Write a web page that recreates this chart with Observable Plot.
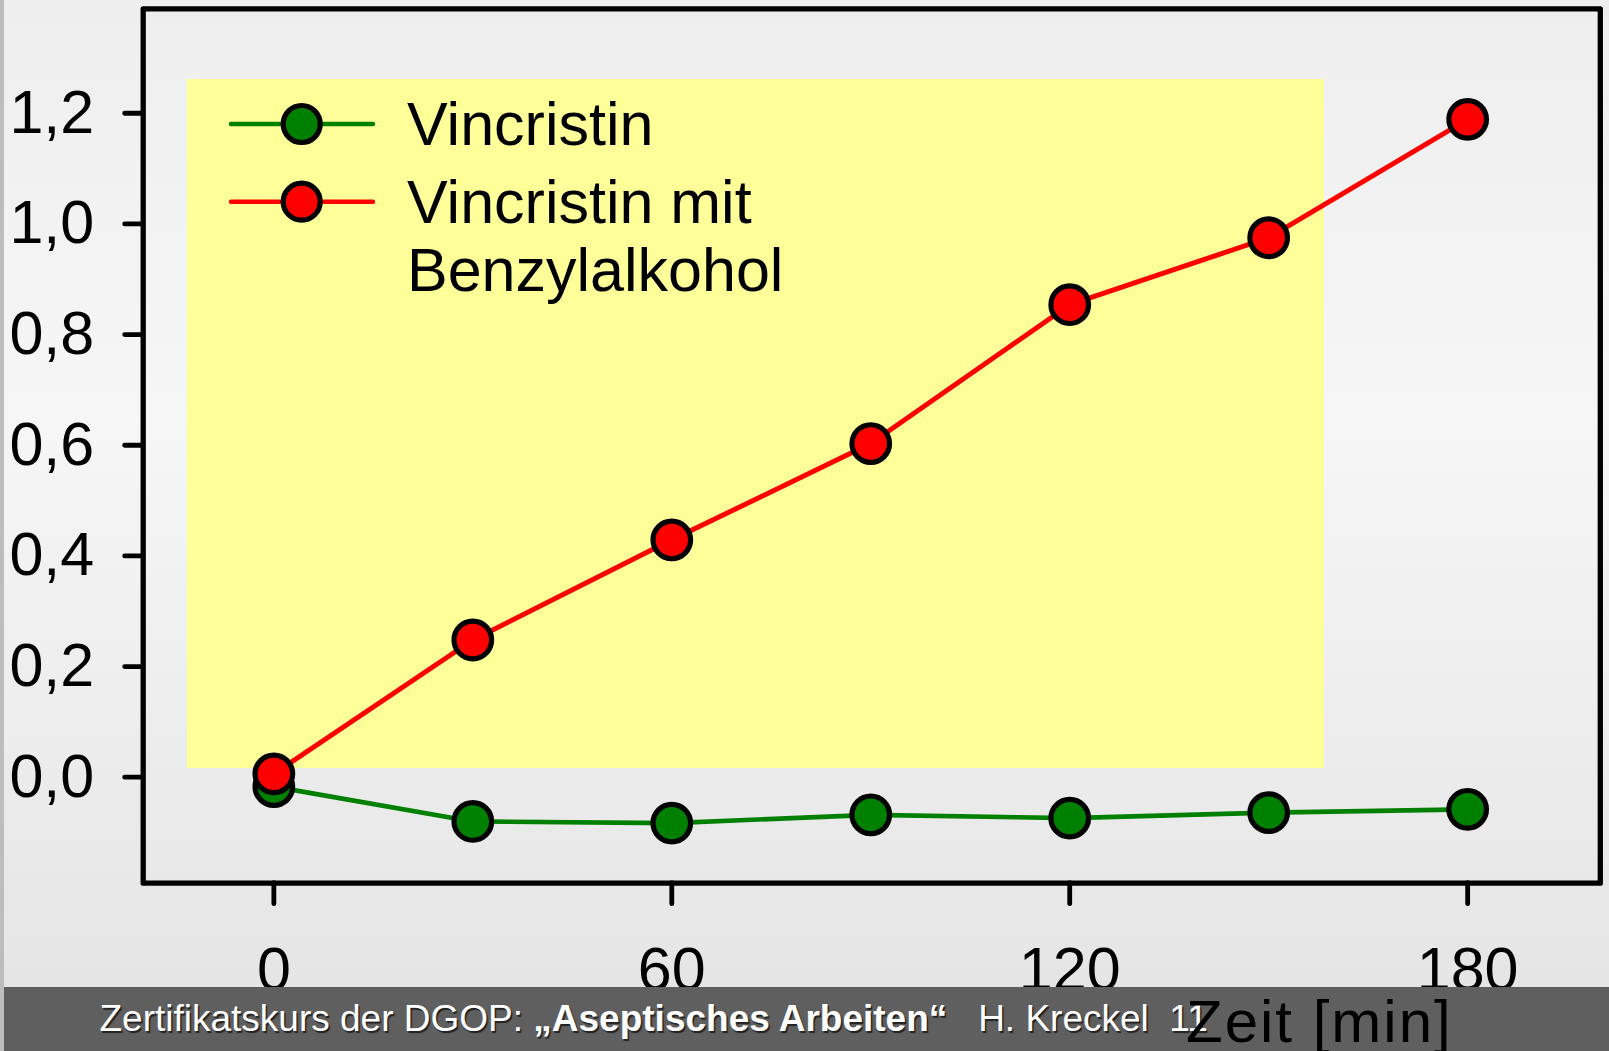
<!DOCTYPE html>
<html>
<head>
<meta charset="utf-8">
<script src="https://cdn.jsdelivr.net/npm/d3@7"></script>
<script src="https://cdn.jsdelivr.net/npm/@observablehq/plot@0.6"></script>
<style>
  html, body { margin: 0; padding: 0; background: #e6e6e6; }
  #stage { position: relative; width: 1609px; height: 1051px; overflow: hidden;
    font-family: "Liberation Sans", Arial, sans-serif;
    background: linear-gradient(to bottom, #eeeeee 0px, #f6f6f6 420px, #e5e5e5 987px); }
  #strip { position: absolute; left: 0; top: 0; width: 4px; height: 1051px; background: #bdbdbd; z-index: 3; }
  #legendBox { position: absolute; left: 187px; top: 79px; width: 1137px; height: 689px; background: #ffff99; z-index: 0; }
  #chart { position: absolute; left: 0; top: 0; z-index: 1; }
  #legend { position: absolute; left: 0; top: 0; width: 1609px; height: 1051px; z-index: 2; pointer-events: none; }
  .ltext { position: absolute; font-size: 61px; line-height: 61px; color: #000; white-space: nowrap; }
  #footer { position: absolute; left: 4px; top: 987px; width: 1605px; height: 64px; background: #5f5f5f; z-index: 3; }
  #footerText { position: absolute; left: 99.5px; top: 1000px; font-size: 37px; line-height: 37px; color: #fff;
    white-space: pre; z-index: 4; text-shadow: 1.5px 1.5px 1px rgba(0,0,0,0.65); }
  #xlabel { position: absolute; left: 1186px; top: 992px; font-size: 60px; line-height: 60px; color: #000;
    letter-spacing: 2px; white-space: nowrap; z-index: 5; }
</style>
</head>
<body>
<div id="stage">
  <div id="strip"></div>
  <div id="legendBox"></div>
  <div id="chart"></div>
  <div id="legend"></div>
  <div id="footer"></div>
  <div id="footerText">Zertifikatskurs der DGOP: <b>„Aseptisches Arbeiten“</b>   H. Kreckel  11</div>
  <div id="xlabel"></div>
</div>
<script>
// ---- data ----
const times = [0, 30, 60, 90, 120, 150, 180];
const vincristin = [-0.017, -0.080, -0.083, -0.068, -0.074, -0.064, -0.058];
const vincristinBenzyl = [0.006, 0.248, 0.429, 0.603, 0.854, 0.975, 1.189];
const seriesNames = ["Vincristin", "Vincristin mit Benzylalkohol"];
const seriesColors = ["#008000", "#ff0000"];
const xTicks = [0, 60, 120, 180];
const yTicks = [0, 0.2, 0.4, 0.6, 0.8, 1.0, 1.2];
const xLabel = "Zeit [min]";

const green = times.map((t, i) => ({t, v: vincristin[i], s: seriesNames[0]}));
const red = times.map((t, i) => ({t, v: vincristinBenzyl[i], s: seriesNames[1]}));

const fmt = d => d.toFixed(1).replace(".", ",");

const chart = Plot.plot({
  width: 1609,
  height: 1051,
  marginLeft: 142.7,
  marginRight: 9.2,
  marginTop: 8.3,
  marginBottom: 168.3,
  style: {background: "transparent", color: "#000", fontFamily: "'Liberation Sans', Arial, sans-serif", overflow: "visible"},
  x: {domain: [-19.7, 200]},
  y: {domain: [-0.1916, 1.3888]},
  marks: [
    Plot.axisY(yTicks, {tickSize: 18, tickPadding: 31, fontSize: 61, strokeWidth: 4.8, strokeLinecap: "round",
      tickFormat: fmt, label: null}),
    Plot.axisX(xTicks, {tickSize: 21, tickPadding: 42, fontSize: 61, strokeWidth: 4.8, strokeLinecap: "round",
      tickFormat: d => String(d), label: null}),
    Plot.frame({stroke: "#000", strokeWidth: 5.3, strokeLinejoin: "round"}),
    Plot.line(green, {x: "t", y: "v", stroke: seriesColors[0], strokeWidth: 4.7}),
    Plot.dot(green, {x: "t", y: "v", r: 18.8, fill: seriesColors[0], stroke: "#000", strokeWidth: 5.2}),
    Plot.line(red, {x: "t", y: "v", stroke: seriesColors[1], strokeWidth: 5}),
    Plot.dot(red, {x: "t", y: "v", r: 18.8, fill: seriesColors[1], stroke: "#000", strokeWidth: 5.2})
  ]
});
document.getElementById("chart").appendChild(chart);

// ---- legend ----
const legend = document.getElementById("legend");
const ns = "http://www.w3.org/2000/svg";
const lsvg = document.createElementNS(ns, "svg");
lsvg.setAttribute("width", 1609);
lsvg.setAttribute("height", 1051);
lsvg.style.position = "absolute";
lsvg.style.left = "0"; lsvg.style.top = "0";
const symY = [124, 201.7];
seriesNames.forEach((name, i) => {
  const ln = document.createElementNS(ns, "line");
  ln.setAttribute("x1", 231); ln.setAttribute("x2", 373);
  ln.setAttribute("y1", symY[i]); ln.setAttribute("y2", symY[i]);
  ln.setAttribute("stroke", seriesColors[i]); ln.setAttribute("stroke-width", 4.5);
  ln.setAttribute("stroke-linecap", "round");
  lsvg.appendChild(ln);
  const c = document.createElementNS(ns, "circle");
  c.setAttribute("cx", 301.7); c.setAttribute("cy", symY[i]); c.setAttribute("r", 18.5);
  c.setAttribute("fill", seriesColors[i]); c.setAttribute("stroke", "#000"); c.setAttribute("stroke-width", 5.2);
  lsvg.appendChild(c);
});
legend.appendChild(lsvg);
const lines = [
  {text: "Vincristin", top: 93.6},
  {text: "Vincristin mit", top: 171.9},
  {text: "Benzylalkohol", top: 240.3}
];
lines.forEach(l => {
  const d = document.createElement("div");
  d.className = "ltext";
  d.style.left = "407px";
  d.style.top = l.top + "px";
  d.textContent = l.text;
  legend.appendChild(d);
});
document.getElementById("xlabel").textContent = xLabel;
</script>
</body>
</html>
